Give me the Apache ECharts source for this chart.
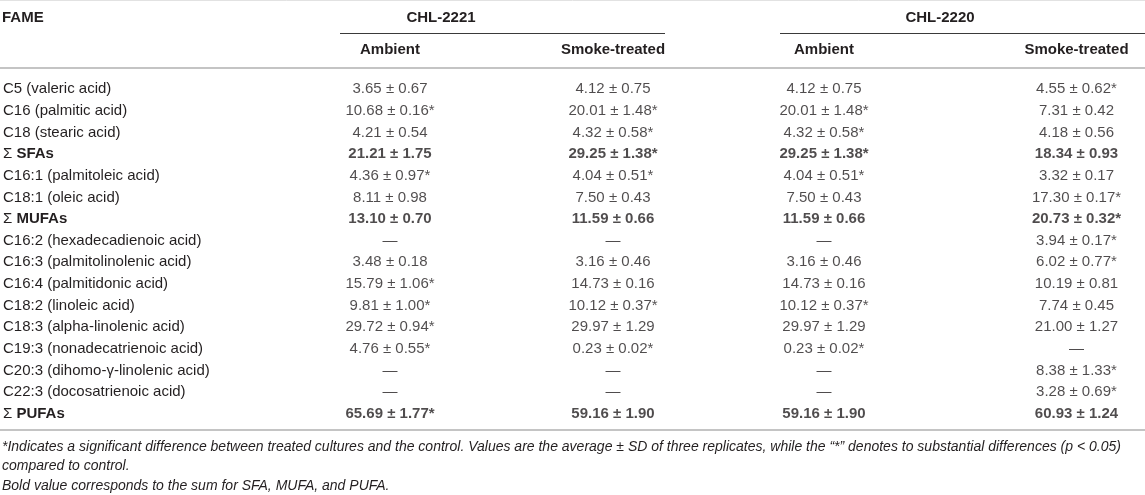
<!DOCTYPE html>
<html><head><meta charset="utf-8">
<script src="https://cdn.jsdelivr.net/npm/echarts@6/dist/echarts.min.js"></script>
<style>html,body{margin:0;padding:0;background:#fff}#c{width:1145px;height:495px}</style>
</head><body><div id="c"></div>
<script>
// ---- data ----
const rowNames = ["C5 (valeric acid)","C16 (palmitic acid)","C18 (stearic acid)","Σ SFAs","C16:1 (palmitoleic acid)","C18:1 (oleic acid)","Σ MUFAs","C16:2 (hexadecadienoic acid)","C16:3 (palmitolinolenic acid)","C16:4 (palmitidonic acid)","C18:2 (linoleic acid)","C18:3 (alpha-linolenic acid)","C19:3 (nonadecatrienoic acid)","C20:3 (dihomo-γ-linolenic acid)","C22:3 (docosatrienoic acid)","Σ PUFAs"];
const firstHeader = "FAME";
const strains = ["CHL-2221","CHL-2220"];
const treatments = ["Ambient","Smoke-treated"];

const chl2221AmbientMean = [3.65,10.68,4.21,21.21,4.36,8.11,13.10,null,3.48,15.79,9.81,29.72,4.76,null,null,65.69];
const chl2221AmbientSD   = [0.67,0.16,0.54,1.75,0.97,0.98,0.70,null,0.18,1.06,1.00,0.94,0.55,null,null,1.77];
const chl2221AmbientSig  = [0,1,0,0,1,0,0,0,0,1,1,1,1,0,0,1];

const chl2221SmokeMean = [4.12,20.01,4.32,29.25,4.04,7.50,11.59,null,3.16,14.73,10.12,29.97,0.23,null,null,59.16];
const chl2221SmokeSD   = [0.75,1.48,0.58,1.38,0.51,0.43,0.66,null,0.46,0.16,0.37,1.29,0.02,null,null,1.90];
const chl2221SmokeSig  = [0,1,1,1,1,0,0,0,0,0,1,0,1,0,0,0];

const chl2220AmbientMean = [4.12,20.01,4.32,29.25,4.04,7.50,11.59,null,3.16,14.73,10.12,29.97,0.23,null,null,59.16];
const chl2220AmbientSD   = [0.75,1.48,0.58,1.38,0.51,0.43,0.66,null,0.46,0.16,0.37,1.29,0.02,null,null,1.90];
const chl2220AmbientSig  = [0,1,1,1,1,0,0,0,0,0,1,0,1,0,0,0];

const chl2220SmokeMean = [4.55,7.31,4.18,18.34,3.32,17.30,20.73,3.94,6.02,10.19,7.74,21.00,null,8.38,3.28,60.93];
const chl2220SmokeSD   = [0.62,0.42,0.56,0.93,0.17,0.17,0.32,0.17,0.77,0.81,0.45,1.27,null,1.33,0.69,1.24];
const chl2220SmokeSig  = [1,0,0,0,0,1,1,1,1,0,0,0,0,1,1,0];

const footnotes = [
  "*Indicates a significant difference between treated cultures and the control. Values are the average ± SD of three replicates, while the \u201c*\u201d denotes to substantial differences (p < 0.05)",
  "compared to control.",
  "Bold value corresponds to the sum for SFA, MUFA, and PUFA."
];

// ---- layout / style ----
const FONT = '"Liberation Sans", Arial, Helvetica, sans-serif';
const INK = '#231f20';
const FS = 15;
const columns = [
  {mean: chl2221AmbientMean, sd: chl2221AmbientSD, sig: chl2221AmbientSig, head: treatments[0], center: 390},
  {mean: chl2221SmokeMean, sd: chl2221SmokeSD, sig: chl2221SmokeSig, head: treatments[1], center: 613},
  {mean: chl2220AmbientMean, sd: chl2220AmbientSD, sig: chl2220AmbientSig, head: treatments[0], center: 824},
  {mean: chl2220SmokeMean, sd: chl2220SmokeSD, sig: chl2220SmokeSig, head: treatments[1], center: 1088}
];
const GRID_TOP = 78.5, GRID_H = 346, COL_W = 160;
const isSum = i => rowNames[i].startsWith('Σ');

function cellText(col, i) {
  const m = col.mean[i];
  if (m == null) return '—';
  return m.toFixed(2) + ' ± ' + col.sd[i].toFixed(2) + (col.sig[i] ? '*' : '');
}

const grids = [{left: 2, top: GRID_TOP, width: 300, height: GRID_H}];
const xAxes = [{type: 'category', gridIndex: 0, data: [firstHeader], show: false}];
const yAxes = [{
  type: 'category', gridIndex: 0, data: rowNames, inverse: true,
  axisLine: {show: false}, axisTick: {show: false}, splitLine: {show: false},
  axisLabel: {
    margin: 0, align: 'left', fontFamily: FONT, fontSize: FS, color: INK,
    formatter: v => v.startsWith('Σ') ? '{s|Σ} {b|' + v.slice(2) + '}' : v,
    rich: {s: {fontFamily: FONT, fontSize: FS, color: INK},
           b: {fontFamily: FONT, fontSize: FS, color: INK, fontWeight: 'bold'}}
  }
}];
const series = [];
columns.forEach((col, c) => {
  const k = c + 1;
  grids.push({left: col.center - COL_W / 2, top: GRID_TOP, width: COL_W, height: GRID_H});
  xAxes.push({
    type: 'category', gridIndex: k, data: [col.head], position: 'top',
    axisLine: {show: false}, axisTick: {show: false}, splitLine: {show: false},
    axisLabel: {margin: 28.5, verticalAlign: 'middle', fontFamily: FONT, fontSize: FS,
                fontWeight: 'bold', color: INK}
  });
  yAxes.push({type: 'category', gridIndex: k, data: rowNames, inverse: true, show: false});
  series.push({
    type: 'scatter', xAxisIndex: k, yAxisIndex: k, silent: true,
    symbolSize: 1, itemStyle: {color: 'rgba(0,0,0,0)'},
    data: rowNames.map((r, i) => ({
      value: [0, i],
      label: {fontWeight: isSum(i) ? 'bold' : 'normal'}
    })),
    label: {
      show: true, position: 'inside', fontFamily: FONT, fontSize: FS, color: INK,
      formatter: p => cellText(col, p.dataIndex)
    }
  });
});

const txt = (x, y, s, opt) => ({type: 'text', x, y, silent: true,
  style: Object.assign({text: s, fontFamily: FONT, fontSize: FS, fill: INK,
    verticalAlign: 'middle', align: 'left'}, opt || {})});
const hline = (x1, x2, y, stroke, w) => ({type: 'line', silent: true,
  shape: {x1, y1: y, x2, y2: y}, style: {stroke, lineWidth: w}});

const graphic = [
  hline(0, 1145, 0.5, '#e2e2e2', 1),
  txt(2, 18, firstHeader, {fontWeight: 'bold'}),
  txt(441, 18, strains[0], {fontWeight: 'bold', align: 'center'}),
  txt(940, 18, strains[1], {fontWeight: 'bold', align: 'center'}),
  hline(340, 665, 33.5, '#3a3a3a', 1),
  hline(780, 1145, 33.5, '#3a3a3a', 1),
  hline(0, 1145, 68, '#c4c4c4', 2),
  hline(0, 1145, 430, '#c4c4c4', 2),
  txt(2, 447, footnotes[0], {fontStyle: 'italic', fontSize: 14}),
  txt(2, 466.5, footnotes[1], {fontStyle: 'italic', fontSize: 14}),
  txt(2, 486, footnotes[2], {fontStyle: 'italic', fontSize: 14})
];

const chart = echarts.init(document.getElementById('c'), null, {renderer: 'canvas'});
chart.setOption({
  animation: false,
  backgroundColor: '#fff',
  grid: grids, xAxis: xAxes, yAxis: yAxes, series, graphic
});
</script>
</body></html>
